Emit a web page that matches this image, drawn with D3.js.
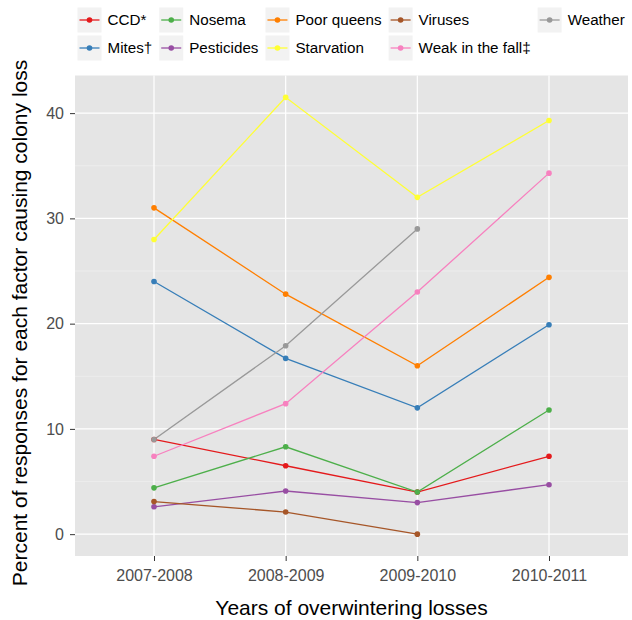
<!DOCTYPE html>
<html>
<head>
<meta charset="utf-8">
<script src="https://cdn.jsdelivr.net/npm/d3@7"></script>
<style>
  body { margin: 0; background: #fff; }
  svg { font-family: "Liberation Sans", Arial, sans-serif; }
</style>
</head>
<body>
<svg width="632" height="620"></svg>
<script>
// categories and series (percent of responses)
var years = ["2007-2008", "2008-2009", "2009-2010", "2010-2011"];
var factors = ["CCD*", "Mites\u2020", "Nosema", "Pesticides", "Poor queens",
               "Starvation", "Viruses", "Weak in the fall\u2021", "Weather"];
var ccd        = [9.0, 6.5, 4.0, 7.4];
var mites      = [24.0, 16.7, 12.0, 19.9];
var nosema     = [4.4, 8.3, 4.0, 11.8];
var pesticides = [2.6, 4.1, 3.0, 4.7];
var poorQueens = [31.0, 22.8, 16.0, 24.4];
var starvation = [28.0, 41.5, 32.0, 39.3];
var viruses    = [3.1, 2.1, 0.0, null];
var weakFall   = [7.4, 12.4, 23.0, 34.3];
var weather    = [9.0, 17.9, 29.0, null];
var yTicks = [0, 10, 20, 30, 40];

var colors = ["#E41A1C", "#377EB8", "#4DAF4A", "#984EA3", "#FF7F00",
              "#FFFF33", "#A65628", "#F781BF", "#999999"];
var seriesValues = [ccd, mites, nosema, pesticides, poorQueens,
                    starvation, viruses, weakFall, weather];

var series = factors.map(function(f, i) {
  return {
    key: f,
    color: colors[i],
    values: years.map(function(y, j) { return { year: y, value: seriesValues[i][j] }; })
  };
});

var svg = d3.select("svg"),
    panel = { left: 75, right: 628, top: 75.5, bottom: 556 };

var x = d3.scalePoint()
    .domain(years)
    .range([panel.left, panel.right])
    .padding(0.6);

// ggplot-like 5% expansion
var all = [].concat.apply([], seriesValues).filter(function(v) { return v != null; });
var ext = d3.extent(all), pad = (ext[1] - ext[0]) * 0.05;
var y = d3.scaleLinear()
    .domain([ext[0] - pad, ext[1] + pad])
    .range([panel.bottom, panel.top]);

// panel background
svg.append("rect")
    .attr("x", panel.left).attr("y", panel.top)
    .attr("width", panel.right - panel.left)
    .attr("height", panel.bottom - panel.top)
    .attr("fill", "#E5E5E5");

// minor grid
var minor = yTicks.slice(0, -1).map(function(d) { return d + 5; });
svg.append("g").selectAll("line")
  .data(minor)
  .enter().append("line")
    .attr("x1", panel.left).attr("x2", panel.right)
    .attr("y1", y).attr("y2", y)
    .attr("stroke", "#F2F2F2").attr("stroke-width", 0.6);

// major grid
svg.append("g").selectAll("line")
  .data(yTicks)
  .enter().append("line")
    .attr("x1", panel.left).attr("x2", panel.right)
    .attr("y1", y).attr("y2", y)
    .attr("stroke", "#fff").attr("stroke-width", 1.2);

svg.append("g").selectAll("line")
  .data(years)
  .enter().append("line")
    .attr("x1", x).attr("x2", x)
    .attr("y1", panel.top).attr("y2", panel.bottom)
    .attr("stroke", "#fff").attr("stroke-width", 1.2);

// axes
var yAxis = svg.append("g")
    .attr("transform", "translate(" + panel.left + ",0)")
    .call(d3.axisLeft(y).tickValues(yTicks).tickSize(5).tickPadding(6));
var xAxis = svg.append("g")
    .attr("transform", "translate(0," + panel.bottom + ")")
    .call(d3.axisBottom(x).tickSize(5).tickPadding(9));

[yAxis, xAxis].forEach(function(a) {
  a.select(".domain").remove();
  a.selectAll(".tick line").attr("stroke", "#333");
  a.selectAll(".tick text")
    .attr("fill", "#4D4D4D")
    .style("font-size", "16px")
    .style("font-family", "'Liberation Sans', Arial, sans-serif");
});

// lines then points
var line = d3.line()
    .defined(function(d) { return d.value != null; })
    .x(function(d) { return x(d.year); })
    .y(function(d) { return y(d.value); });

svg.append("g").selectAll("path")
  .data(series)
  .enter().append("path")
    .attr("d", function(d) { return line(d.values); })
    .attr("fill", "none")
    .attr("stroke", function(d) { return d.color; })
    .attr("stroke-width", 1.3);

svg.append("g").selectAll("g")
  .data(series)
  .enter().append("g")
    .attr("fill", function(d) { return d.color; })
  .selectAll("circle")
  .data(function(d) { return d.values.filter(function(v) { return v.value != null; }); })
  .enter().append("circle")
    .attr("cx", function(d) { return x(d.year); })
    .attr("cy", function(d) { return y(d.value); })
    .attr("r", 2.8);

// axis titles
svg.append("text")
    .attr("x", (panel.left + panel.right) / 2)
    .attr("y", 615)
    .attr("text-anchor", "middle")
    .style("font-size", "21px")
    .text("Years of overwintering losses");

svg.append("text")
    .attr("transform", "translate(26.5," + 323 + ")rotate(-90)")
    .attr("text-anchor", "middle")
    .style("font-size", "21px")
    .text("Percent of responses for each factor causing colony loss");

// legend: 2 rows, filled by column
var keyW = 24, keyH = 25, rowTop = [7.5, 35.5];
var legend = svg.append("g");
var colX = 77.5;
var nCols = Math.ceil(series.length / 2);
for (var c = 0; c < nCols; c++) {
  var maxW = 0;
  for (var r = 0; r < 2; r++) {
    var s = series[c * 2 + r];
    if (!s) continue;
    var cy = rowTop[r] + keyH / 2;
    var item = legend.append("g");
    item.append("rect")
        .attr("x", colX).attr("y", rowTop[r])
        .attr("width", keyW).attr("height", keyH)
        .attr("fill", "#F2F2F2");
    item.append("line")
        .attr("x1", colX + 2).attr("x2", colX + keyW - 2)
        .attr("y1", cy).attr("y2", cy)
        .attr("stroke", s.color).attr("stroke-width", 1.3);
    item.append("circle")
        .attr("cx", colX + keyW / 2).attr("cy", cy).attr("r", 2.8)
        .attr("fill", s.color);
    var t = item.append("text")
        .attr("x", colX + keyW + 6)
        .attr("y", cy)
        .attr("dy", "0.36em")
        .style("font-size", "15.2px")
        .text(s.key);
    maxW = Math.max(maxW, t.node().getComputedTextLength());
  }
  colX += keyW + 6 + maxW + 7;
}
</script>
</body>
</html>
